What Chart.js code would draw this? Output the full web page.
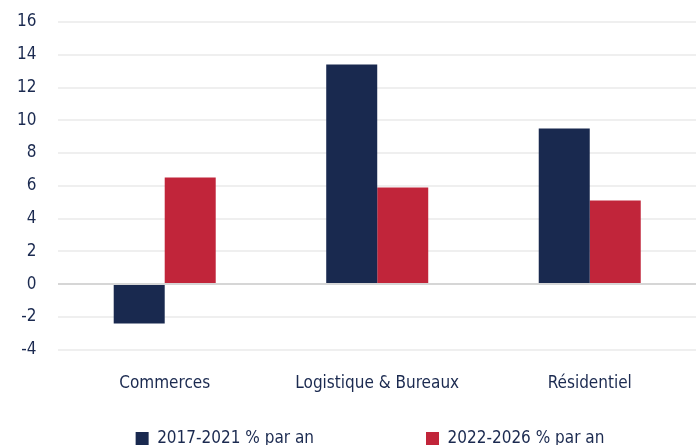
<!DOCTYPE html>
<html>
<head>
<meta charset="utf-8">
<script src="https://cdn.jsdelivr.net/npm/chart.js@4.4.1/dist/chart.umd.min.js"></script>
<style>
html,body{margin:0;padding:0;background:#fff;}
#wrap{width:696px;height:445px;}
</style>
</head>
<body>
<div id="wrap"><canvas id="chart"></canvas></div>
<script>
// data
const categories = ['Commerces', 'Logistique & Bureaux', 'Résidentiel'];
const seriesNames = ['2017-2021 % par an', '2022-2026 % par an'];
const values2017 = [-2.4, 13.4, 9.5];
const values2022 = [6.5, 5.9, 5.1];
const yMin = -4, yMax = 16, yStep = 2;

const navy = '#19294f';
const red = '#c1253a';
const textColor = '#1b2a50';
const font = "'DejaVu Sans Condensed', 'DejaVu Sans', sans-serif";

// legend sits low, partly cut by the bottom edge like in the reference
const legendShift = {
  id: 'legendShift',
  afterLayout(chart) {
    const lg = chart.legend;
    if (!lg) return;
    const dy = 420 - lg.top, dx = 22;
    lg.top += dy; lg.bottom += dy;
    lg.left += dx; lg.right += dx;
  }
};

new Chart(document.getElementById('chart'), {
  type: 'bar',
  data: {
    labels: categories,
    datasets: [
      { label: seriesNames[0], data: values2017, backgroundColor: navy },
      { label: seriesNames[1], data: values2022, backgroundColor: red }
    ]
  },
  options: {
    responsive: true,
    maintainAspectRatio: false,
    animation: false,
    datasets: { bar: { categoryPercentage: 0.48, barPercentage: 1 } },
    layout: { padding: { left: -5, right: -5, top: 22, bottom: -2 } },
    scales: {
      x: {
        grid: { display: false },
        border: { display: false },
        ticks: { color: textColor, font: { family: font, size: 17 }, padding: 16 },
        afterFit: s => { s.paddingLeft = 0; s.paddingRight = -5; }
      },
      y: {
        min: yMin, max: yMax,
        grid: {
          drawTicks: false,
          lineWidth: 2,
          color: c => c.tick && c.tick.value === 0 ? '#d6d6d6' : '#efefef'
        },
        border: { display: false },
        ticks: { stepSize: yStep, color: textColor, font: { family: font, size: 17 }, padding: 22 },
        afterFit: s => { s.paddingTop = 0; }
      }
    },
    plugins: {
      tooltip: { enabled: false },
      legend: {
        position: 'bottom',
        labels: {
          color: textColor,
          font: { family: font, size: 17 },
          boxWidth: 13,
          boxHeight: 13,
          padding: 10,
          // extra gap between the two legend entries
          generateLabels: chart => Chart.defaults.plugins.legend.labels.generateLabels(chart).map((l, i) => {
            if (i === 0) l.text += ' '.repeat(21);
            return l;
          })
        }
      }
    }
  },
  plugins: [legendShift]
});
</script>
</body>
</html>
